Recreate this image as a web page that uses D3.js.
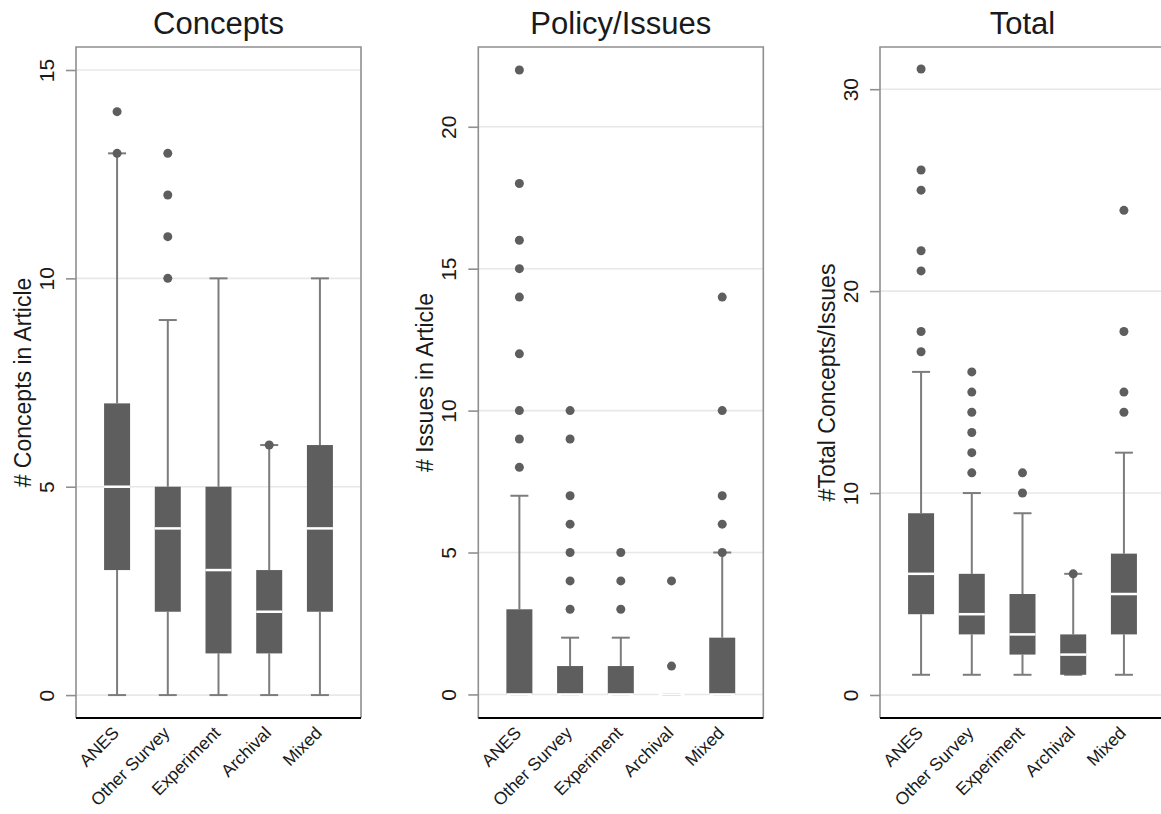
<!DOCTYPE html>
<html>
<head>
<meta charset="utf-8">
<script src="https://cdn.jsdelivr.net/npm/d3@7"></script>
<style>
  html, body { margin: 0; padding: 0; background: #fff; }
  svg { display: block; font-family: "Liberation Sans", Arial, Helvetica, sans-serif; }
</style>
</head>
<body>
<svg id="chart" width="1161" height="814"></svg>
<script>
// Study design categories shared by all three panels
const categories = ["ANES", "Other Survey", "Experiment", "Archival", "Mixed"];

const panelTitles = ["Concepts", "Policy/Issues", "Total"];
const yTitles = ["# Concepts in Article", "# Issues in Article", "#Total Concepts/Issues"];

// Tick values for each panel's y axis
const conceptsTicks = [0, 5, 10, 15];
const issuesTicks = [0, 5, 10, 15, 20];
const totalTicks = [0, 10, 20, 30];

// Box summaries per category: [lower whisker, Q1, median, Q3, upper whisker]
const conceptsStats = [[0, 3, 5, 7, 13], [0, 2, 4, 5, 9], [0, 1, 3, 5, 10], [0, 1, 2, 3, 6], [0, 2, 4, 6, 10]];
const conceptsOutliers = [[13, 14], [10, 11, 12, 13], [], [6], []];

const issuesStats = [[0, 0, 0, 3, 7], [0, 0, 0, 1, 2], [0, 0, 0, 1, 2], [0, 0, 0, 0, 0], [0, 0, 0, 2, 5]];
const issuesOutliers = [[8, 9, 10, 12, 14, 15, 16, 18, 22], [3, 4, 5, 6, 7, 9, 10], [3, 4, 5], [1, 4], [5, 6, 7, 10, 14]];

const totalStats = [[1, 4, 6, 9, 16], [1, 3, 4, 6, 10], [1, 2, 3, 5, 9], [1, 1, 2, 3, 6], [1, 3, 5, 7, 12]];
const totalOutliers = [[17, 18, 21, 22, 25, 26, 31], [11, 12, 13, 14, 15, 16], [10, 11], [6], [14, 15, 18, 24]];

// y extents of each plot region (axis range incl. padding)
const yExtents = [[-0.55, 15.552], [-0.83, 22.81], [-1.14, 32.09]];

const panels = [
  { title: panelTitles[0], yTitle: yTitles[0], ticks: conceptsTicks, stats: conceptsStats, outliers: conceptsOutliers, ext: yExtents[0] },
  { title: panelTitles[1], yTitle: yTitles[1], ticks: issuesTicks, stats: issuesStats, outliers: issuesOutliers, ext: yExtents[1] },
  { title: panelTitles[2], yTitle: yTitles[2], ticks: totalTicks, stats: totalStats, outliers: totalOutliers, ext: yExtents[2] }
];

// Layout
const plotLefts = [76, 478.3, 880];
const plotW = 285;
const plotTop = 47;
const axisY = 718;
const boxW = 26;
const capW = 18;

const boxFill = "#5e5e5e";
const whiskerCol = "#7c7c7c";
const frameCol = "#8f8f8f";
const gridCol = "#e8e8e8";
const textCol = "#1a1a1a";

const svg = d3.select("#chart");
svg.append("rect").attr("width", 1161).attr("height", 814).attr("fill", "#fff");

panels.forEach((p, i) => {
  const left = plotLefts[i];
  const g = svg.append("g").attr("transform", `translate(${left},0)`);

  const x = d3.scalePoint().domain(categories).range([0, plotW]).padding(0.81);
  const y = d3.scaleLinear().domain(p.ext).range([axisY, plotTop]);

  // gridlines
  g.append("g").selectAll("line").data(p.ticks).join("line")
    .attr("x1", 0).attr("x2", plotW)
    .attr("y1", d => y(d)).attr("y2", d => y(d))
    .attr("stroke", gridCol).attr("stroke-width", 1.6);

  // frame: top, left, right in gray
  g.append("path")
    .attr("d", `M0,${axisY}V${plotTop}H${plotW}V${axisY}`)
    .attr("fill", "none").attr("stroke", frameCol).attr("stroke-width", 1.6);

  // y axis ticks and rotated labels
  const yAxis = g.append("g")
    .call(d3.axisLeft(y).tickValues(p.ticks).tickSize(10).tickFormat(d3.format("d")));
  yAxis.select(".domain").remove();
  yAxis.selectAll(".tick line").attr("stroke", frameCol).attr("stroke-width", 1.6);
  yAxis.selectAll(".tick text")
    .attr("x", 0).attr("y", -22).attr("dy", 0)
    .attr("transform", "rotate(-90)")
    .attr("text-anchor", "middle")
    .attr("font-size", 21)
    .attr("fill", textCol);

  // y axis title
  g.append("text")
    .attr("transform", `translate(-45,${(plotTop + axisY) / 2}) rotate(-90)`)
    .attr("text-anchor", "middle")
    .attr("font-size", 23)
    .attr("fill", textCol)
    .text(p.yTitle);

  // panel title
  g.append("text")
    .attr("x", plotW / 2).attr("y", 34)
    .attr("text-anchor", "middle")
    .attr("font-size", 31)
    .attr("fill", textCol)
    .text(p.title);

  const rows = categories.map((c, k) => ({ cat: c, s: p.stats[k], out: p.outliers[k] }));

  // whiskers and caps
  const wg = g.append("g").attr("stroke", whiskerCol).attr("stroke-width", 2);
  rows.forEach(r => {
    const cx = x(r.cat);
    wg.append("line").attr("x1", cx).attr("x2", cx).attr("y1", y(r.s[0])).attr("y2", y(r.s[1]));
    wg.append("line").attr("x1", cx).attr("x2", cx).attr("y1", y(r.s[3])).attr("y2", y(r.s[4]));
    wg.append("line").attr("x1", cx - capW / 2).attr("x2", cx + capW / 2).attr("y1", y(r.s[0])).attr("y2", y(r.s[0]));
    wg.append("line").attr("x1", cx - capW / 2).attr("x2", cx + capW / 2).attr("y1", y(r.s[4])).attr("y2", y(r.s[4]));
  });

  // boxes
  g.append("g").selectAll("rect").data(rows).join("rect")
    .attr("x", d => x(d.cat) - boxW / 2)
    .attr("width", boxW)
    .attr("y", d => y(d.s[3]))
    .attr("height", d => y(d.s[1]) - y(d.s[3]))
    .attr("fill", boxFill);

  // medians
  g.append("g").selectAll("line").data(rows).join("line")
    .attr("x1", d => x(d.cat) - boxW / 2)
    .attr("x2", d => x(d.cat) + boxW / 2)
    .attr("y1", d => y(d.s[2])).attr("y2", d => y(d.s[2]))
    .attr("stroke", "#fff").attr("stroke-width", 2.5);

  // outside values
  const pts = rows.flatMap(r => r.out.map(v => ({ cat: r.cat, v })));
  g.append("g").selectAll("circle").data(pts).join("circle")
    .attr("cx", d => x(d.cat)).attr("cy", d => y(d.v))
    .attr("r", 4.5).attr("fill", boxFill);

  // bottom axis line
  g.append("line")
    .attr("x1", 0).attr("x2", plotW)
    .attr("y1", axisY).attr("y2", axisY)
    .attr("stroke", "#000").attr("stroke-width", 2);

  // category labels, angled
  g.append("g").selectAll("text").data(categories).join("text")
    .attr("transform", d => `translate(${x(d) + 3},${axisY + 16}) rotate(-45)`)
    .attr("text-anchor", "end")
    .attr("font-size", 17.5)
    .attr("fill", textCol)
    .text(d => d);
});
</script>
</body>
</html>
